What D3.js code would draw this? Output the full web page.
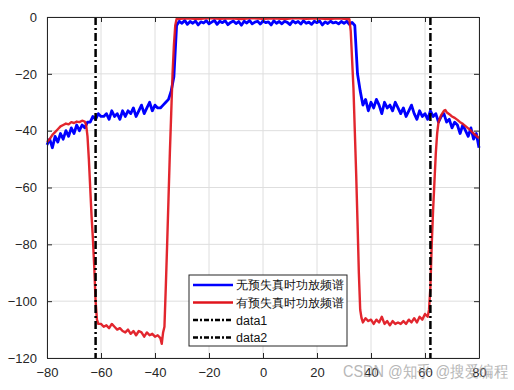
<!DOCTYPE html>
<html>
<head>
<meta charset="utf-8">
<script src="https://cdn.jsdelivr.net/npm/d3@7"></script>
<style>
  body { margin: 0; background: #fff; }
  text { font-family: 'Liberation Sans', Arial, sans-serif; }
</style>
</head>
<body>
<div id="chart"></div>
<script>
// blue: spectrum without predistortion, one value per MHz from -80 to 80
let blueFreq = d3.range(-80, 81)
let blueLevel = [
  -45, -43, -46, -42, -44, -41, -43, -40, -42, -39, -41, -38, -40, -38, -39,
  -37, -37, -35, -36, -34, -35,
  -35, -34, -36, -33, -35, -34, -36, -33, -35, -33, -34,
  -32, -35, -33, -31, -34, -32, -30, -33, -31, -32,
  -32, -31, -30, -29,
  -26, -21, -3,
  -1.5, -2.2, -1.2, -2.6, -1.6, -2.2, -1.4, -2.8, -1.7, -2.1, -1.3, -2.4, -1.8, -1.2, -2.6,
  -1.5, -2.0, -1.3, -2.7, -1.9, -1.4, -2.3, -1.6, -2.9, -1.5, -2.1, -1.2, -2.4, -1.8, -1.5,
  -2.5, -1.4, -2.0, -1.7, -2.8, -1.3, -2.2, -1.6, -2.4, -1.5, -1.9, -2.7, -1.4, -2.1, -1.6,
  -2.5, -1.3, -2.2, -1.8, -2.6, -1.5, -2.0, -1.4, -2.8, -1.7, -2.3, -1.5, -2.1, -1.8, -2.4,
  -1.6, -2.2, -1.5, -2.6, -1.9,
  -3, -20, -26, -31,
  -29, -33, -30, -32, -29, -31, -34, -30, -32, -31, -33, -30, -32, -34,
  -32, -35, -33, -31, -34, -36, -33, -35, -34, -36, -33, -35, -34, -37, -35,
  -34, -37, -36, -39, -37, -38, -41, -38, -40, -42,
  -39, -43, -41, -46, -47
]

// red: spectrum with predistortion
let redFreq = [
  -80, -79, -78, -77, -76, -75, -74, -73, -72, -71, -70, -69, -68, -67, -66,
  -65.5, -65, -64.5, -64, -63.5, -63, -62.5, -62, -61.5, -61, -60,
  -59, -58, -57, -56, -55, -54, -53, -52, -51, -50, -49, -48, -47, -46, -45,
  -44, -43, -42, -41, -40, -39, -38, -37.5, -37, -36.5, -36, -35.5, -35, -34.5,
  -34, -33.5, -33, -32.5, -32,
  -28, -24, -20, -16, -12, -8, -4, 0, 4, 8, 12, 16, 20, 24, 28,
  32, 32.5, 33, 33.5, 34, 34.5, 35, 35.5, 36, 36.5, 37, 38, 39, 40, 41, 42, 43,
  44, 45, 46, 47, 48, 49, 50, 51, 52, 53, 54, 55, 56, 57, 58, 59, 60, 61,
  61.5, 62, 62.5, 63, 63.5, 64, 64.5, 65, 66, 67, 67.5, 68, 69, 70, 71, 72,
  73, 74, 75, 76, 77, 78, 79, 80
]
let redLevel = [
  -44, -43, -41.5, -40.5, -39.5, -38.5, -38, -37.5, -37.8, -37, -37.3, -36.8, -37, -36.5, -36.8,
  -38, -42, -50, -60, -70, -78, -88, -100, -106.5, -108, -108,
  -109, -108.5, -109.5, -108, -109, -110, -109.5, -110.5, -111, -110, -111.5, -110.5, -112, -110.5, -111,
  -112.5, -111, -112, -111.5, -112.5, -112, -113, -115, -111, -109, -95, -80, -64, -48,
  -34, -20, -10, -3, -0.7,
  -0.5, -0.7, -0.4, -0.6, -0.5, -0.7, -0.4, -0.6, -0.5, -0.7, -0.4, -0.6, -0.5, -0.7, -0.5,
  -0.8, -5, -15, -25, -40, -55, -72, -90, -103, -106, -107.5, -106, -107, -106.5, -108, -106.5, -107.5,
  -105.5, -108, -107, -108.5, -107, -108, -107.5, -108, -107, -108, -106.5, -107.5, -106, -107.5, -105.5, -106.5, -104.5, -105.5,
  -103, -95, -80, -68, -58, -48, -41, -37, -34.5, -33, -32.7, -33.5, -34.2, -35, -35.5, -36.2,
  -37, -37.6, -38.4, -39.2, -40, -41, -41.8, -42.6
]

// the two dash-dot markers
let data1Freq = [-62, -62]
let data2Freq = [62, 62]
let markerLevel = [0, -120]

let xTicks = [-80, -60, -40, -20, 0, 20, 40, 60, 80]
let yTicks = [0, -20, -40, -60, -80, -100, -120]

let legendLabels = ['无预失真时功放频谱', '有预失真时功放频谱', 'data1', 'data2']

let margin = { top: 17, left: 47, right: 35, bottom: 32 }
let width = 514 - margin.left - margin.right
let height = 390 - margin.top - margin.bottom

let svg = d3
  .select('#chart')
  .append('svg')
  .attr('width', 514)
  .attr('height', 390)

let g = svg
  .append('g')
  .attr('transform', 'translate(' + margin.left + ',' + margin.top + ')')

let xPositionScale = d3.scaleLinear().domain([-80, 80]).range([0, width])
let yPositionScale = d3.scaleLinear().domain([-120, 0]).range([height, 0])

// grid
g.selectAll('.xgrid')
  .data(xTicks)
  .enter()
  .append('line')
  .attr('x1', d => xPositionScale(d))
  .attr('x2', d => xPositionScale(d))
  .attr('y1', 0)
  .attr('y2', height)
  .attr('stroke', '#dedede')
  .attr('stroke-width', 1)

g.selectAll('.ygrid')
  .data(yTicks)
  .enter()
  .append('line')
  .attr('y1', d => yPositionScale(d))
  .attr('y2', d => yPositionScale(d))
  .attr('x1', 0)
  .attr('x2', width)
  .attr('stroke', '#dedede')
  .attr('stroke-width', 1)

let line = d3
  .line()
  .x(d => xPositionScale(d[0]))
  .y(d => yPositionScale(d[1]))

svg
  .append('clipPath')
  .attr('id', 'plot-clip')
  .append('rect')
  .attr('x', -2)
  .attr('y', -2)
  .attr('width', width + 4)
  .attr('height', height + 4)

let plot = g.append('g').attr('clip-path', 'url(#plot-clip)')

plot
  .append('path')
  .attr('d', line(d3.zip(blueFreq, blueLevel)))
  .attr('fill', 'none')
  .attr('stroke', '#0000ff')
  .attr('stroke-width', 2.8)
  .attr('stroke-linejoin', 'round')

plot
  .append('path')
  .attr('d', line(d3.zip(redFreq, redLevel)))
  .attr('fill', 'none')
  .attr('stroke', '#e0141c')
  .attr('stroke-width', 2.4)
  .attr('stroke-linejoin', 'round')
  .attr('opacity', 0.92)

;[data1Freq, data2Freq].forEach(f => {
  plot
    .append('path')
    .attr('d', line(d3.zip(f, markerLevel)))
    .attr('fill', 'none')
    .attr('stroke', '#000')
    .attr('stroke-width', 2.5)
    .attr('stroke-dasharray', '8,3,2,3')
})

// axes box with inward ticks on all sides
let axisColor = '#262626'

let xAxis = d3.axisBottom(xPositionScale).tickValues(xTicks).tickSizeInner(-5).tickSizeOuter(0).tickPadding(10)
let xAxisTop = d3.axisTop(xPositionScale).tickValues(xTicks).tickSizeInner(-5).tickSizeOuter(0).tickFormat('')
let yAxis = d3.axisLeft(yPositionScale).tickValues(yTicks).tickSizeInner(-5).tickSizeOuter(0).tickPadding(10)
let yAxisRight = d3.axisRight(yPositionScale).tickValues(yTicks).tickSizeInner(-5).tickSizeOuter(0).tickFormat('')

function styleAxis(sel) {
  sel.select('.domain').attr('stroke', axisColor)
  sel.selectAll('.tick line').attr('stroke', axisColor)
  sel
    .selectAll('.tick text')
    .attr('fill', axisColor)
    .attr('font-size', 13)
    .attr('font-family', "'Liberation Sans', Arial, sans-serif")
}

g.append('g')
  .attr('transform', 'translate(0,' + height + ')')
  .call(xAxis)
  .call(styleAxis)
g.append('g').call(xAxisTop).call(styleAxis)
g.append('g').call(yAxis).call(styleAxis)
g.append('g')
  .attr('transform', 'translate(' + width + ',0)')
  .call(yAxisRight)
  .call(styleAxis)

// legend
let legend = svg.append('g').attr('transform', 'translate(189,275)')
legend
  .append('rect')
  .attr('width', 158)
  .attr('height', 71)
  .attr('fill', '#fff')
  .attr('stroke', '#262626')
  .attr('stroke-width', 1)

let legendColors = ['#0000ff', '#e0141c', '#000', '#000']
let legendDash = [null, null, '5,2,2,2', '5,2,2,2']

legendLabels.forEach((label, i) => {
  let y = 10 + i * 17.5
  legend
    .append('line')
    .attr('x1', 4)
    .attr('x2', 44)
    .attr('y1', y)
    .attr('y2', y)
    .attr('stroke', legendColors[i])
    .attr('stroke-width', 2.5)
    .attr('stroke-dasharray', legendDash[i])
  legend
    .append('text')
    .attr('x', 47)
    .attr('y', y)
    .attr('dy', '0.36em')
    .attr('font-size', i < 2 ? 11.5 : 12.5)
    .attr('font-family', i < 2 ? "'Noto Sans CJK SC', sans-serif" : "'Liberation Sans', Arial, sans-serif")
    .attr('fill', '#111')
    .text(label)
})

// watermark
svg
  .append('text')
  .attr('x', 343)
  .attr('y', 377)
  .attr('font-size', 16)
  .attr('textLength', 165)
  .attr('lengthAdjust', 'spacingAndGlyphs')
  .attr('font-family', "'Noto Sans CJK SC', sans-serif")
  .attr('fill', '#999')
  .attr('opacity', 0.7)
  .text('CSDN @知乎 @搜爱编程')
</script>
</body>
</html>
